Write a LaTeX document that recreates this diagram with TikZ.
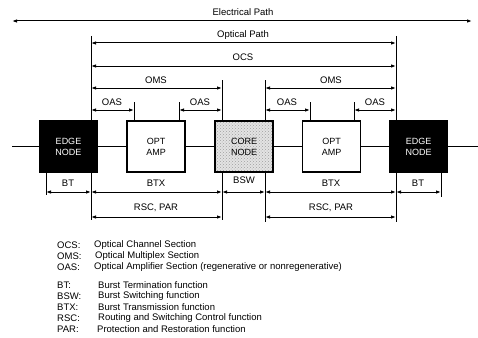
\documentclass[tikz,border=0pt]{standalone}
\usepackage{fontspec}
\setmainfont{Liberation Sans}
\usetikzlibrary{arrows.meta,patterns}
\begin{document}
\begin{tikzpicture}[x=1pt,y=-1pt,
  dim/.style={line width=1pt, {Latex[length=5pt,width=3.5pt]}-{Latex[length=5pt,width=3.5pt]}},
  tick/.style={line width=1pt},
  lbl/.style={font=\fontsize{9.5}{10}\selectfont, inner sep=1pt},
  box/.style={draw, line width=1.2pt, minimum width=58pt, minimum height=51pt, align=center, font=\fontsize{9}{11}\selectfont, inner sep=0pt},
  edgebox/.style={box, fill=black, text=white},
  ampbox/.style={box, fill=white},
  corebox/.style={box, preaction={fill=gray!22}, pattern=crosshatch dots, pattern color=gray!75},
  fiber/.style={line width=1.6pt},
  leg/.style={anchor=west, font=\fontsize{9.5}{10}\selectfont, inner sep=0pt}
]
\useasboundingbox (0,0) rectangle (478,337);

% vertical extension lines
\draw[tick] (91,36) -- (91,220);
\draw[tick] (396,36) -- (396,222);
\draw[tick] (222,80) -- (222,121);
\draw[tick] (265,80) -- (265,121);
\draw[tick] (222,172) -- (222,220);
\draw[tick] (265,172) -- (265,222);
\draw[tick] (134,102) -- (134,121);
\draw[tick] (179,102) -- (179,121);
\draw[tick] (310,102) -- (310,121);
\draw[tick] (354,102) -- (354,121);
\draw[tick] (46,172) -- (46,195);
\draw[tick] (441,172) -- (441,197);

% boxes
\node[edgebox] (edgeL) at (68.5,146.5) {EDGE\\NODE};
\node[ampbox]  (amp1)  at (156,146.5) {OPT\\AMP};
\node[corebox] (core)  at (244,146.5) {CORE\\NODE};
\node[ampbox]  (amp2)  at (331.5,146.5) {OPT\\AMP};
\node[edgebox] (edgeR) at (418.5,146.5) {EDGE\\NODE};

\coordinate (inL) at (12,146.5);
\coordinate (outR) at (478,146.5);
\draw[fiber] (inL) -- (edgeL.west);
\draw[fiber] (edgeL.east) -- (amp1.west);
\draw[fiber] (amp1.east) -- (core.west);
\draw[fiber] (core.east) -- (amp2.west);
\draw[fiber] (amp2.east) -- (edgeR.west);
\draw[fiber] (edgeR.east) -- (outR);

% top dimension lines
\draw[dim] (12,21) -- (472,21);
\node[lbl] (elp) at (243,12) {Electrical Path};
\draw[dim] (91,43) -- (396,43);
\node[lbl] (opp) at (243,35) {Optical Path};
\draw[dim] (91,66) -- (396,66);
\node[lbl] (ocs) at (243,57) {OCS};
\draw[dim] (91,88) -- (222,88);
\node[lbl] (oms1) at (156,80) {OMS};
\draw[dim] (265,88) -- (396,88);
\node[lbl] (oms2) at (331,80) {OMS};
\draw[dim] (91,110) -- (134,110);
\node[lbl] (oas1) at (112,102) {OAS};
\draw[dim] (179,110) -- (222,110);
\node[lbl] (oas2) at (200,102) {OAS};
\draw[dim] (265,110) -- (310,110);
\node[lbl] (oas3) at (287,102) {OAS};
\draw[dim] (354,110) -- (396,110);
\node[lbl] (oas4) at (375,102) {OAS};

% bottom dimension lines
\draw[dim] (46,192) -- (91,192);
\node[lbl] (bt1) at (68,183) {BT};
\draw[dim] (91,192) -- (222,192);
\node[lbl] (btx1) at (156,183) {BTX};
\draw[dim] (222,192) -- (265,192);
\node[lbl] (bsw) at (244,180) {BSW};
\draw[dim] (265,192) -- (396,192);
\node[lbl] (btx2) at (331,183) {BTX};
\draw[dim] (396,192) -- (441,192);
\node[lbl] (bt2) at (418,183) {BT};
\draw[dim] (91,217) -- (222,217);
\node[lbl] (rsc1) at (156,208) {RSC, PAR};
\draw[dim] (265,217) -- (396,217);
\node[lbl] (rsc2) at (331,208) {RSC, PAR};

% legend
\node[leg] (l1) at (57,245) {OCS:};
\node[leg] (d1) at (94,245) {Optical Channel Section};
\node[leg] (l2) at (57,256) {OMS:};
\node[leg] (d2) at (95,256) {Optical Multiplex Section};
\node[leg] (l3) at (57,267) {OAS:};
\node[leg] (d3) at (94,267) {Optical Amplifier Section (regenerative or nonregenerative)};
\node[leg] (l4) at (57,285) {BT:};
\node[leg] (d4) at (98,285) {Burst Termination function};
\node[leg] (l5) at (57,296) {BSW:};
\node[leg] (d5) at (98,296) {Burst Switching function};
\node[leg] (l6) at (57,307) {BTX:};
\node[leg] (d6) at (98,307) {Burst Transmission function};
\node[leg] (l7) at (57,318) {RSC:};
\node[leg] (d7) at (98,318) {Routing and Switching Control function};
\node[leg] (l8) at (57,329) {PAR:};
\node[leg] (d8) at (97,329) {Protection and Restoration function};
\end{tikzpicture}
\end{document}
